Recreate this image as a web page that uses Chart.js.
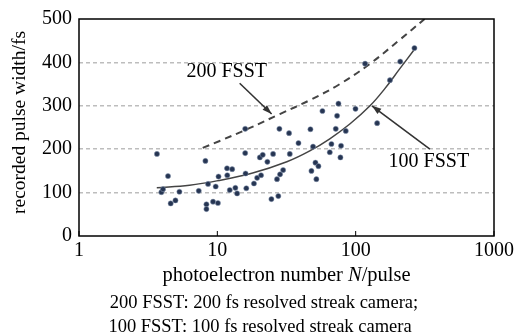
<!DOCTYPE html>
<html>
<head>
<meta charset="utf-8">
<script src="https://cdn.jsdelivr.net/npm/chart.js@4.4.0/dist/chart.umd.min.js"></script>
<style>
  html, body { margin: 0; padding: 0; background: #fff; }
  #wrap { width: 517px; height: 336px; }
</style>
</head>
<body>
<div id="wrap"><canvas id="chart" width="517" height="336"></canvas></div>
<script>
// measured points: photoelectron number N and recorded pulse width (fs)
var pointN = [3.66, 4.40, 3.94, 4.05, 5.32, 4.60, 4.98, 7.34, 8.20, 8.57, 8.34, 8.34, 9.31, 10.1, 9.73,
    10.2, 11.75, 11.8, 12.3, 12.8, 13.5, 13.9, 15.9, 15.9, 16.0, 16.2, 18.4, 19.4, 20.7, 20.3, 21.3,
    23.0, 25.3, 24.6, 27.6, 28.1, 33.0, 33.4, 29.9, 28.4, 27.0, 38.6, 47.1, 49.2, 51.2, 53.8, 47.9,
    52.0, 65.0, 143, 66.8, 71.8, 84.8, 78.4, 77.6, 57.5, 75.1, 73.4, 99.7, 117, 177, 210, 266];
var pointWidth = [189, 138, 101, 108, 102, 75, 82, 104, 173, 120, 73, 62, 79, 76, 114,
    137, 156, 140, 106, 154, 111, 98, 247, 191, 144, 110, 121, 134, 140, 181, 187,
    171, 189, 85, 92, 247, 237, 189, 152, 142, 131, 214, 246, 206, 169, 161, 150,
    131, 193, 260, 212, 247, 242, 208, 181, 288, 305, 277, 293, 397, 359, 402, 433];

// fitted curve (100 FSST)
var fit100N = [3.65, 6.3, 9.9, 18, 31.8, 46.6, 65, 90.7, 127, 162, 208, 263];
var fit100W = [111, 117, 127, 145, 171, 196, 224, 258, 300, 339, 385, 428];

// 200 FSST curve (dashed)
var fit200N = [7.84, 10.4, 17.2, 28.3, 46.6, 76.7, 126, 208, 315];
var fit200W = [203, 219, 249, 281, 313, 350, 396, 452, 500];

var xTicks = [1, 10, 100, 1000];
var yTicks = [0, 100, 200, 300, 400, 500];

// annotations: label position and arrow (from -> to) in data units
var labels = [
    { text: '200 FSST', x: 11.7, y: 378, fromX: 14.5, fromY: 352, toX: 24.7, toY: 281 },
    { text: '100 FSST', x: 338, y: 170, fromX: 344, fromY: 200, toX: 131, toY: 300 }
];

var yTitle = 'recorded pulse width/fs';
var caption = ['200 FSST: 200 fs resolved streak camera;', '100 FSST: 100 fs resolved streak camera'];

var serif = "'Liberation Serif', 'Times New Roman', serif";

function toXY(xs, ys) {
    return xs.map(function (x, i) { return { x: x, y: ys[i] }; });
}

var framePlugin = {
    id: 'frame',
    afterDraw: function (chart) {
        var ctx = chart.ctx;
        var a = chart.chartArea;
        var xs = chart.scales.x, ys = chart.scales.y;
        ctx.save();
        // box
        ctx.strokeStyle = '#000';
        ctx.lineWidth = 1.5;
        ctx.strokeRect(a.left, a.top, a.right - a.left, a.bottom - a.top);
        // inward x ticks
        ctx.lineWidth = 1;
        xTicks.forEach(function (t) {
            var px = xs.getPixelForValue(t);
            ctx.beginPath();
            ctx.moveTo(px, a.bottom);
            ctx.lineTo(px, a.bottom - 5);
            ctx.stroke();
        });
        // annotations
        ctx.font = '20px ' + serif;
        ctx.fillStyle = '#000';
        ctx.textAlign = 'center';
        ctx.textBaseline = 'middle';
        labels.forEach(function (l) {
            ctx.fillText(l.text, xs.getPixelForValue(l.x), ys.getPixelForValue(l.y));
            var x1 = xs.getPixelForValue(l.fromX), y1 = ys.getPixelForValue(l.fromY);
            var x2 = xs.getPixelForValue(l.toX), y2 = ys.getPixelForValue(l.toY);
            ctx.strokeStyle = '#333';
            ctx.lineWidth = 1.6;
            ctx.beginPath();
            ctx.moveTo(x1, y1);
            ctx.lineTo(x2, y2);
            ctx.stroke();
            var ang = Math.atan2(y2 - y1, x2 - x1);
            ctx.fillStyle = '#333';
            ctx.beginPath();
            ctx.moveTo(x2, y2);
            ctx.lineTo(x2 - 10 * Math.cos(ang - 0.33), y2 - 10 * Math.sin(ang - 0.33));
            ctx.lineTo(x2 - 10 * Math.cos(ang + 0.33), y2 - 10 * Math.sin(ang + 0.33));
            ctx.closePath();
            ctx.fill();
            ctx.fillStyle = '#000';
        });

        // x axis title with italic N
        var cx = (a.left + a.right) / 2, ty = a.bottom + 40;
        var parts = [['photoelectron number ', ''], ['N', 'italic '], ['/pulse', '']];
        var total = 0;
        parts.forEach(function (p) {
            ctx.font = p[1] + '20.5px ' + serif;
            p.push(ctx.measureText(p[0]).width);
            total += p[2];
        });
        var px = cx - total / 2;
        ctx.textAlign = 'left';
        parts.forEach(function (p) {
            ctx.font = p[1] + '20.5px ' + serif;
            ctx.fillText(p[0], px, ty);
            px += p[2];
        });

        // caption
        ctx.font = '18.5px ' + serif;
        ctx.textAlign = 'center';
        ctx.fillText(caption[0], 264, a.bottom + 67);
        ctx.fillText(caption[1], 260, a.bottom + 91);

        // y axis title
        ctx.translate(20, (a.top + a.bottom) / 2 - 5);
        ctx.rotate(-Math.PI / 2);
        ctx.font = '19.5px ' + serif;
        ctx.fillText(yTitle, 0, 0);
        ctx.restore();
    }
};

var ctx = document.getElementById('chart').getContext('2d');
var chart = new Chart(ctx, {
    type: 'scatter',
    data: {
        datasets: [{
            data: toXY(pointN, pointWidth),
            backgroundColor: '#263552',
            borderColor: '#8a9ab5',
            borderWidth: 0.5,
            pointRadius: 2.6,
            showLine: false
        }, {
            data: toXY(fit100N, fit100W),
            showLine: true,
            borderColor: '#444',
            borderWidth: 1.5,
            pointRadius: 0,
            tension: 0.4
        }, {
            data: toXY(fit200N, fit200W),
            showLine: true,
            borderColor: '#444',
            borderWidth: 2,
            borderDash: [7, 5],
            pointRadius: 0,
            tension: 0.4
        }]
    },
    options: {
        responsive: false,
        animation: false,
        layout: { padding: { top: 19, right: 23, left: 0, bottom: 0 } },
        scales: {
            x: {
                type: 'logarithmic',
                min: 1,
                max: 1000,
                afterBuildTicks: function (axis) {
                    axis.ticks = xTicks.map(function (v) { return { value: v }; });
                },
                afterFit: function (axis) { axis.height = 100; },
                grid: { display: false, drawTicks: false },
                border: { display: false },
                ticks: {
                    color: '#000',
                    font: { family: serif, size: 20 },
                    padding: 3,
                    maxRotation: 0,
                    autoSkip: false,
                    callback: function (v) { return String(v); }
                }
            },
            y: {
                min: 0,
                max: 500,
                afterBuildTicks: function (axis) {
                    axis.ticks = yTicks.map(function (v) { return { value: v }; });
                },
                afterFit: function (axis) { axis.width = 79; },
                grid: {
                    color: function (c) {
                        return (c.tick.value === 0 || c.tick.value === 500) ? 'rgba(0,0,0,0)' : '#bdbdbd';
                    },
                    lineWidth: 1.5,
                    drawTicks: false
                },
                border: { display: false, dash: [4, 3] },
                ticks: {
                    color: '#000',
                    font: { family: serif, size: 20 },
                    padding: 7
                }
            }
        },
        plugins: {
            legend: { display: false },
            tooltip: { enabled: false }
        }
    },
    plugins: [framePlugin]
});
</script>
</body>
</html>
